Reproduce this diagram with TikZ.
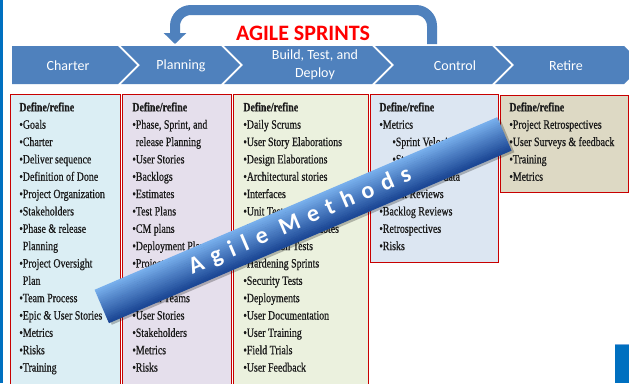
\documentclass[tikz,border=0pt]{standalone}
\usepackage{fontspec}
\usetikzlibrary{arrows.meta}
\newfontfamily\calibrifont{Carlito}
\newfontfamily\listfont[FakeStretch=0.78,FakeBold=0.6]{Liberation Serif}
\newfontfamily\bannerfont[LetterSpace=36]{Carlito}
\definecolor{stepblue}{RGB}{79,129,189}
\definecolor{sidebar}{RGB}{0,112,192}
\definecolor{boxred}{RGB}{200,0,0}
\definecolor{charterfill}{RGB}{219,238,244}
\definecolor{planningfill}{RGB}{229,223,236}
\definecolor{buildfill}{RGB}{235,241,222}
\definecolor{controlfill}{RGB}{220,230,242}
\definecolor{retirefill}{RGB}{221,217,196}
\definecolor{listtext}{RGB}{25,25,25}
\definecolor{bannerlight}{RGB}{120,175,236}
\definecolor{bannerdark}{RGB}{28,72,150}
\tikzset{every picture/.style={line width=0.75pt}}
\tikzset{
  stepshape/.style={fill=stepblue, draw=none},
  steplabel/.style={text=white, inner sep=0, align=center, font=\calibrifont\fontsize{14}{18}\selectfont},
  colbox/.style={draw=boxred, line width=1.2pt, anchor=north west, inner sep=0},
  collist/.style={anchor=north west, inner sep=0, align=left, text=listtext, font=\listfont\fontsize{12.7}{17.35}\selectfont},
  sprintarrow/.style={draw=stepblue, line width=10pt, rounded corners=16pt, -{Triangle[width=22pt,length=11pt]}},
  bannertext/.style={inner sep=0, rotate=23.2, text=white, font=\bannerfont\bfseries\fontsize{24}{26}\selectfont}
}

\begin{document}
\begin{tikzpicture}[x=1pt,y=1pt,yscale=-1,xscale=1]
\clip (0,0) rectangle (629,383);
\fill[white] (0,0) rectangle (629,383);

%side bars
\fill[sidebar] (0,0) rectangle (3,383);
\fill[sidebar] (615,344) rectangle (629,383);
\draw[color={rgb,255:red,120;green,170;blue,220}] (615,344.5) -- (629,344.5);

%sprint arrow
\coordinate (sprint-from) at (432,44);
\coordinate (sprint-to) at (175,44);
\draw[sprintarrow] (sprint-from) -- ++(0,-34) -| (sprint-to);
\node[text=red, font=\calibrifont\bfseries\fontsize{22}{23}\selectfont] (sprints-title) at (303,33) {AGILE SPRINTS};

%chevrons
\fill[stepshape] (12,46) -- (118,46) -- (137,65) -- (118,84) -- (12,84) -- cycle;
\fill[stepshape] (121,46) -- (221,46) -- (240,65) -- (221,84) -- (121,84) -- (140,65) -- cycle;
\fill[stepshape] (224,46) -- (372,46) -- (391,65) -- (372,84) -- (224,84) -- (243,65) -- cycle;
\fill[stepshape] (375,46) -- (492,46) -- (511,65) -- (492,84) -- (375,84) -- (394,65) -- cycle;
\fill[stepshape] (495,46) -- (624,46) -- (643,65) -- (624,84) -- (495,84) -- (514,65) -- cycle;
\node[steplabel] (charter-step) at (68,66) {Charter};
\node[steplabel] (planning-step) at (181,66) {Planning};
\node[steplabel] (build-step) at (315,65) {Build, Test, and\\Deploy};
\node[steplabel] (control-step) at (455,66) {Control};
\node[steplabel] (retire-step) at (566,66) {Retire};

%column boxes
\node[colbox, fill=charterfill, minimum width=110pt, minimum height=300pt] (charter-box) at (10,94) {};
\node[colbox, fill=planningfill, minimum width=109pt, minimum height=300pt] (planning-box) at (122,94) {};
\node[colbox, fill=buildfill, minimum width=135pt, minimum height=300pt] (build-box) at (233,94) {};
\node[colbox, fill=controlfill, minimum width=128pt, minimum height=168pt] (control-box) at (370,94) {};
\node[colbox, fill=retirefill, minimum width=128pt, minimum height=97pt] (retire-box) at (500,95) {};

%column lists
\node[collist] (charter-list) at (19,102) {{\bfseries Define/refine}\\
  •Goals\\ •Charter\\ •Deliver sequence\\ •Definition of Done\\ •Project Organization\\
  •Stakeholders\\ •Phase \& release\\ \phantom{•}Planning\\ •Project Oversight\\ \phantom{•}Plan\\
  •Team Process\\ •Epic \& User Stories\\ •Metrics\\ •Risks\\ •Training};
\node[collist] (planning-list) at (132,102) {{\bfseries Define/refine}\\
  •Phase, Sprint, and\\ \phantom{•}release Planning\\ •User Stories\\ •Backlogs\\ •Estimates\\
  •Test Plans\\ •CM plans\\ •Deployment Plans\\ •Project Schedule\\ •Resources\\ •Scrum Teams\\
  •User Stories\\ •Stakeholders\\ •Metrics\\ •Risks};
\node[collist] (build-list) at (243,102) {{\bfseries Define/refine}\\
  •Daily Scrums\\ •User Story Elaborations\\ •Design Elaborations\\ •Architectural stories\\
  •Interfaces\\ •Unit Tests\\ •Build and release notes\\ •Integration Tests\\ •Hardening Sprints\\
  •Security Tests\\ •Deployments\\ •User Documentation\\ •User Training\\ •Field Trials\\ •User Feedback};
\node[collist] (control-list) at (379,102) {{\bfseries Define/refine}\\
  •Metrics\\ \hspace{13pt}•Sprint Velocity\\ \hspace{13pt}•Story Points\\ \hspace{13pt}•Burn-down data\\
  •Sprint Reviews\\ •Backlog Reviews\\ •Retrospectives\\ •Risks};
\node[collist] (retire-list) at (509,102) {{\bfseries Define/refine}\\
  •Project Retrospectives\\ •User Surveys \& feedback\\ •Training\\ •Metrics};

%banner
\begin{scope}[shift={(303,220)}, rotate=-23.2]
  \fill[black, opacity=0.25] (-217,-15) rectangle (221,21);
  \foreach \i in {0,...,17} {
    \pgfmathtruncatemacro\pct{100-100*\i/17}
    \fill[bannerlight!\pct!bannerdark] (-219,-18+2*\i) rectangle (219,-15.6+2*\i);
  }
\end{scope}
\node[bannertext] (methods-banner) at (300,221) {Agile Methods};

\end{tikzpicture}
\end{document}
